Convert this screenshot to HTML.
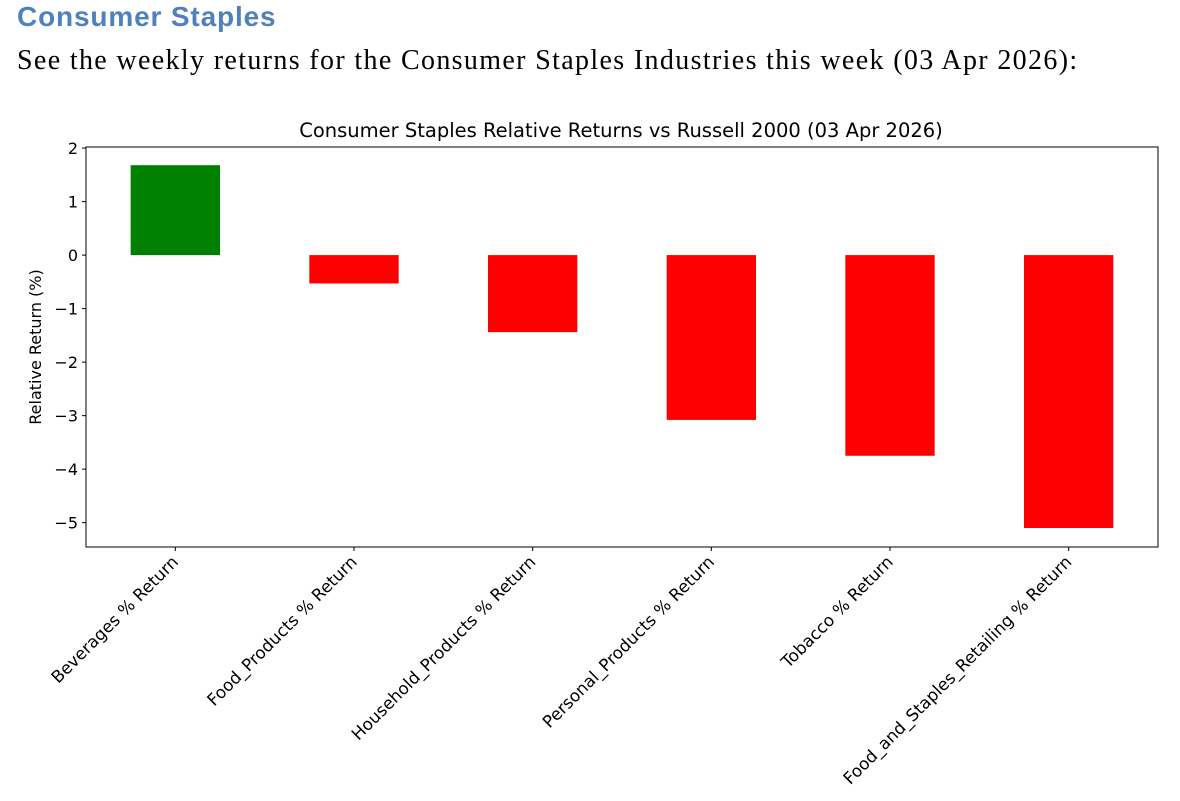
<!DOCTYPE html>
<html><head><meta charset="utf-8">
<style>
body{margin:0;width:1180px;height:801px;background:#fff;overflow:hidden;position:relative}
#h1{position:absolute;left:17px;top:1px;font:bold 28px "Liberation Sans",sans-serif;color:#4f81bd;letter-spacing:0.85px}
#h2{position:absolute;left:17px;top:45px;font:28px "Liberation Serif",serif;color:#000;letter-spacing:1.35px}
svg{position:absolute;left:0;top:0}
text{font-family:"DejaVu Sans","Liberation Sans",sans-serif;font-size:16px;fill:#000}
</style></head><body>
<div id="h1">Consumer Staples</div>
<div id="h2">See the weekly returns for the Consumer Staples Industries this week (03 Apr 2026):</div>
<svg id="chart" width="1180" height="801"></svg>
<script>
const categories=["Beverages % Return","Food_Products % Return","Household_Products % Return","Personal_Products % Return","Tobacco % Return","Food_and_Staples_Retailing % Return"];
const values=[1.68,-0.53,-1.44,-3.08,-3.75,-5.10];
const yTicks=[2,1,0,-1,-2,-3,-4,-5];
const yTickLabels=["2","1","0","\u22121","\u22122","\u22123","\u22124","\u22125"];
const NS="http://www.w3.org/2000/svg";
const svg=document.getElementById('chart');
const L=86,R=1158,T=147,B=547,ymin=-5.455,ymax=2.02;
const x=i=>L+(i+0.5)*(R-L)/categories.length;
const y=v=>T+(ymax-v)/(ymax-ymin)*(B-T);
const bw=0.5*(R-L)/categories.length;
function mk(tag,attrs){const e=document.createElementNS(NS,tag);for(const k in attrs)e.setAttribute(k,attrs[k]);svg.appendChild(e);return e;}
values.forEach((v,i)=>{
  const r=mk('rect',{x:x(i)-bw/2,y:Math.min(y(v),y(0)),width:bw,height:Math.abs(y(v)-y(0)),fill:v>=0?'#008000':'#ff0000'});
  
  
});
const frame=mk('rect',{x:L,y:T,width:R-L,height:B-T,fill:'none',stroke:'#000','stroke-width':1});


yTicks.forEach((t,i)=>{
  mk('line',{x1:L-4,x2:L,y1:y(t),y2:y(t),stroke:'#000'});
  const tx=mk('text',{x:L-8,y:y(t)+6,'text-anchor':'end'});tx.textContent=yTickLabels[i];
  
  
});
categories.forEach((c,i)=>{
  mk('line',{x1:x(i),x2:x(i),y1:B,y2:B+4,stroke:'#000'});
  const tx=mk('text',{x:x(i)+4,y:B+16,'text-anchor':'end',transform:`rotate(-45 ${x(i)+4} ${B+16})`});tx.style.fontSize='16.8px';tx.textContent=c;
  
  
});
const yt=mk('text',{x:41,y:(T+B)/2,'text-anchor':'middle',transform:`rotate(-90 41 ${(T+B)/2})`});yt.textContent="Relative Return (%)";


const tt=mk('text',{x:(L+R)/2-1,y:137,'text-anchor':'middle'});tt.style.fontSize='19.5px';tt.textContent="Consumer Staples Relative Returns vs Russell 2000 (03 Apr 2026)";


</script>
</body></html>
